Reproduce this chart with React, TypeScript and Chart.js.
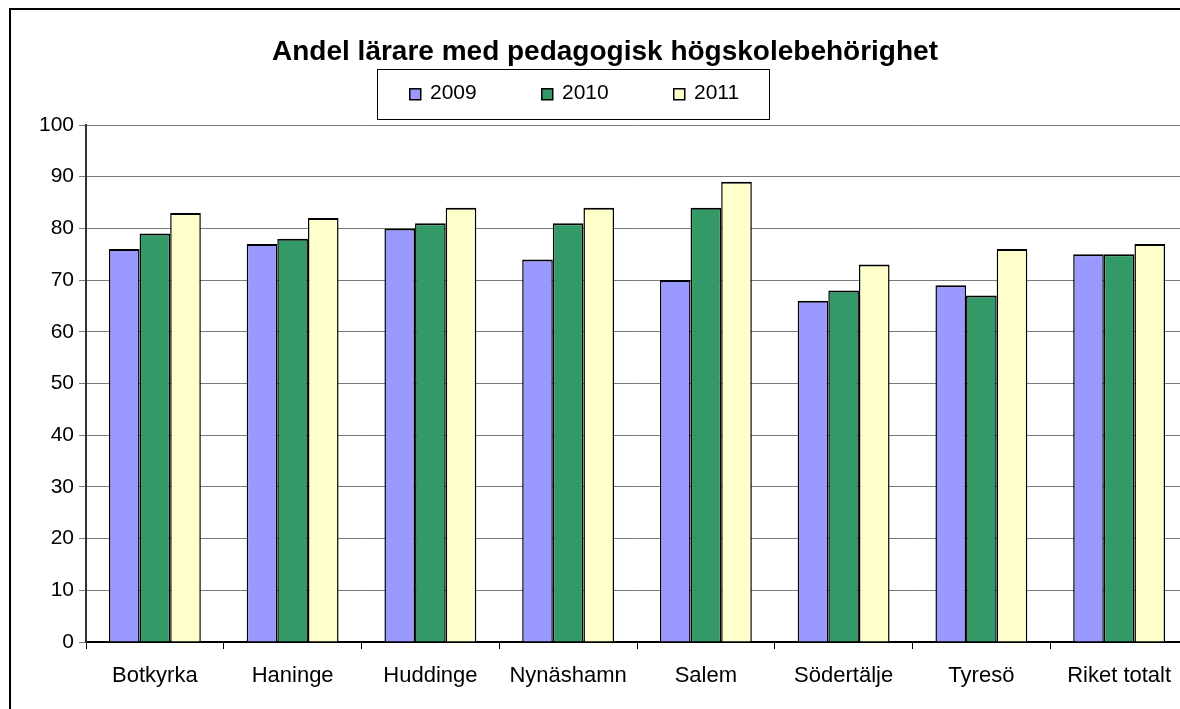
import { useEffect, useRef } from "react";
import { Chart, registerables } from "chart.js";

Chart.register(...registerables);

const chartTitle = "Andel lärare med pedagogisk högskolebehörighet";
const categories = ["Botkyrka", "Haninge", "Huddinge", "Nynäshamn", "Salem", "Södertälje", "Tyresö", "Riket totalt"];
const seriesNames = ["2009", "2010", "2011"];
const values2009 = [76, 77, 80, 74, 70, 66, 69, 75];
const values2010 = [79, 78, 81, 81, 84, 68, 67, 75];
const values2011 = [83, 82, 84, 84, 89, 73, 76, 77];
const seriesColors = ["#9999FF", "#339966", "#FFFFCC"];
const yMin = 0;
const yMax = 100;
const yStep = 10;

const FONT = "'Liberation Sans', Arial, Helvetica, sans-serif";

const boxLegend = {
  id: "boxLegend",
  afterDraw(chart: any) {
    const ctx = chart.ctx;
    ctx.save();
    ctx.strokeStyle = "#000";
    ctx.lineWidth = 1;
    ctx.strokeRect(377.5, 69.5, 392, 50);
    chart.data.datasets.forEach((ds: any, i: number) => {
      const x = 409 + i * 132;
      ctx.fillStyle = ds.backgroundColor;
      ctx.fillRect(x, 88, 12, 12);
      ctx.lineWidth = 1.5;
      ctx.strokeStyle = "#000";
      ctx.strokeRect(x + 0.75, 88.75, 11, 11);
      ctx.fillStyle = "#000";
      ctx.font = "21px " + FONT;
      ctx.textBaseline = "middle";
      ctx.textAlign = "left";
      ctx.fillText(ds.label, x + 21, 93);
    });
    ctx.restore();
  },
};

export default function App() {
  const ref = useRef<HTMLCanvasElement | null>(null);

  useEffect(() => {
    if (!ref.current) return;
    const data = [values2009, values2010, values2011];
    const chart = new Chart(ref.current, {
      type: "bar",
      data: {
        labels: categories,
        datasets: seriesNames.map((name, i) => ({
          label: name,
          data: data[i],
          backgroundColor: seriesColors[i],
          borderColor: "#000",
          borderWidth: { top: 2, left: 1.5, right: 1.5, bottom: 0 },
          borderSkipped: false,
          categoryPercentage: 0.667,
          barPercentage: 1.0,
        })),
      },
      options: {
        responsive: false,
        animation: false,
        devicePixelRatio: 1,
        layout: { padding: { left: 22, right: 4, top: 0, bottom: 0 } },
        plugins: {
          legend: { display: false },
          tooltip: { enabled: false },
          title: {
            display: true,
            text: chartTitle,
            color: "#000",
            font: { family: FONT, size: 28, weight: "bold" },
            padding: { top: 35.2, bottom: 56.2 },
          },
        },
        scales: {
          x: {
            offset: true,
            grid: {
              display: true,
              drawOnChartArea: false,
              drawTicks: true,
              tickLength: 7,
              color: "#000",
              offset: true,
            },
            border: { display: true, color: "#000", width: 2 },
            ticks: {
              color: "#000",
              font: { family: FONT, size: 22 },
              padding: 14,
              maxRotation: 0,
              autoSkip: false,
            },
            afterFit: (scale: any) => {
              scale.height = 67;
            },
          },
          y: {
            min: yMin,
            max: yMax,
            grid: {
              color: "#7a7a7a",
              lineWidth: 1,
              drawTicks: true,
              tickLength: 7,
            },
            border: { display: true, color: "#333", width: 2 },
            ticks: {
              stepSize: yStep,
              color: "#000",
              font: { family: FONT, size: 21 },
              padding: 5,
            },
            afterFit: (scale: any) => {
              scale.width = 64;
            },
          },
        },
      },
      plugins: [boxLegend],
    });
    return () => chart.destroy();
  }, []);

  return (
    <div
      style={{
        position: "fixed",
        left: 0,
        top: 0,
        width: 1180,
        height: 709,
        overflow: "hidden",
        background: "#fff",
      }}
    >
      <canvas
        ref={ref}
        width={1192}
        height={709}
        style={{ position: "absolute", left: 0, top: 0, width: 1192, height: 709 }}
      />
      <div
        style={{
          position: "absolute",
          left: 9,
          top: 8,
          width: 1200,
          height: 720,
          borderTop: "2px solid #000",
          borderLeft: "2px solid #000",
          pointerEvents: "none",
        }}
      />
    </div>
  );
}
